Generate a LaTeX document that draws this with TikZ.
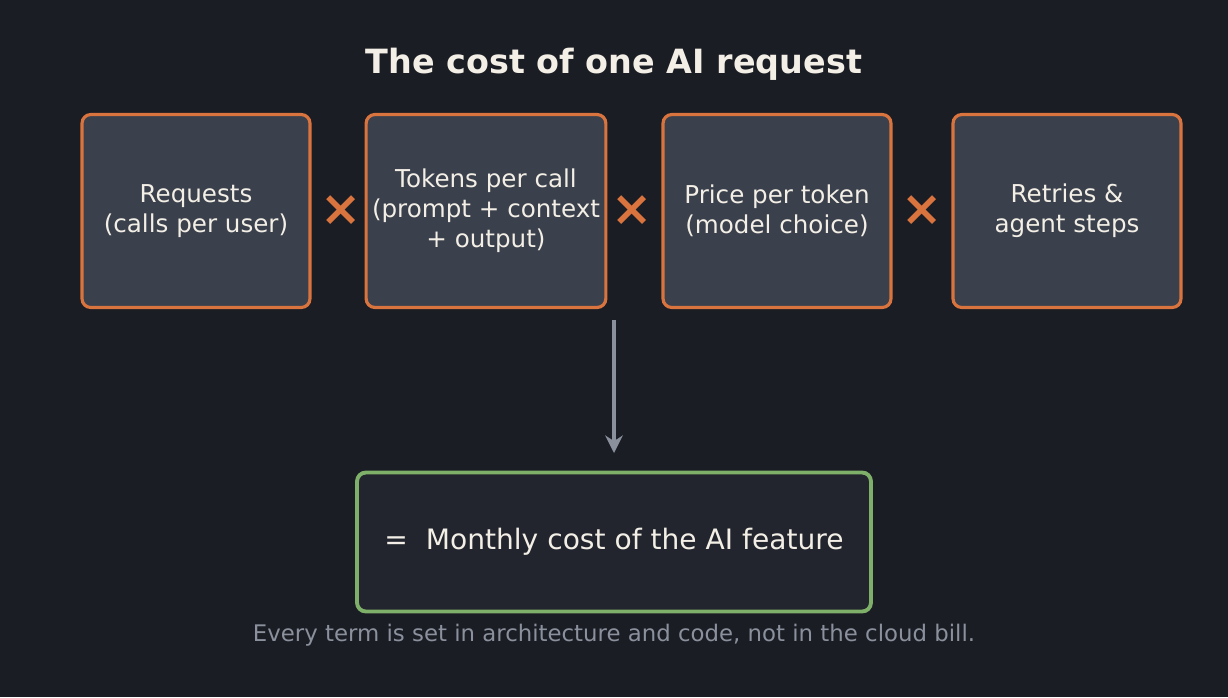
\documentclass[tikz,border=0pt]{standalone}
\usepackage{fontspec}
\setmainfont{DejaVu Sans}
\usetikzlibrary{positioning,arrows.meta}
\definecolor{bgdark}{HTML}{1B1D24}
\definecolor{boxfill}{HTML}{3A404C}
\definecolor{sumfill}{HTML}{22252E}
\definecolor{accent}{HTML}{D9743F}
\definecolor{sumedge}{HTML}{7FB069}
\definecolor{ink}{HTML}{F3EFE6}
\definecolor{muted}{HTML}{8A909C}
\tikzset{
  factor/.style={draw=accent, line width=1.8pt, fill=boxfill, rounded corners=5pt,
    minimum width=4.56cm, minimum height=3.86cm, text=ink, align=center,
    font=\fontsize{14}{17}\selectfont},
  times/.style={text=accent, font=\fontsize{28}{28}\selectfont\bfseries},
}
\begin{document}
\begin{tikzpicture}[x=0.02cm,y=-0.02cm]
  \fill[bgdark] (0,0) rectangle (1228,697);
  \node[text=ink, font=\fontsize{19}{22}\selectfont\bfseries] (title) at (614,64) {The cost of one AI request};
  \node[factor] (req) at (196,211) {Requests\\(calls per user)};
  \node[factor] (tok) at (486,211) {Tokens per call\\(prompt + context\\+ output)};
  \node[factor] (price) at (777,211) {Price per token\\(model choice)};
  \node[factor] (retry) at (1067,211) {Retries \&\\agent steps};
  \node[times] (x1) at (341,211) {×};
  \node[times] (x2) at (632,211) {×};
  \node[times] (x3) at (922,211) {×};
  \node[draw=sumedge, line width=2.2pt, fill=sumfill, rounded corners=5pt,
    minimum width=10.28cm, minimum height=2.78cm, text=ink,
    font=\fontsize{16}{19}\selectfont] (total) at (614,542) {=\ \ Monthly cost of the AI feature};
  \coordinate (top) at (614,320);
  \draw[muted, line width=2pt, -{Stealth[length=10pt,width=10pt]}] (top) -- ([yshift=10pt]total.north);
  \node[text=muted, font=\fontsize{13}{16}\selectfont] (note) at (614,635) {Every term is set in architecture and code, not in the cloud bill.};
\end{tikzpicture}
\end{document}
